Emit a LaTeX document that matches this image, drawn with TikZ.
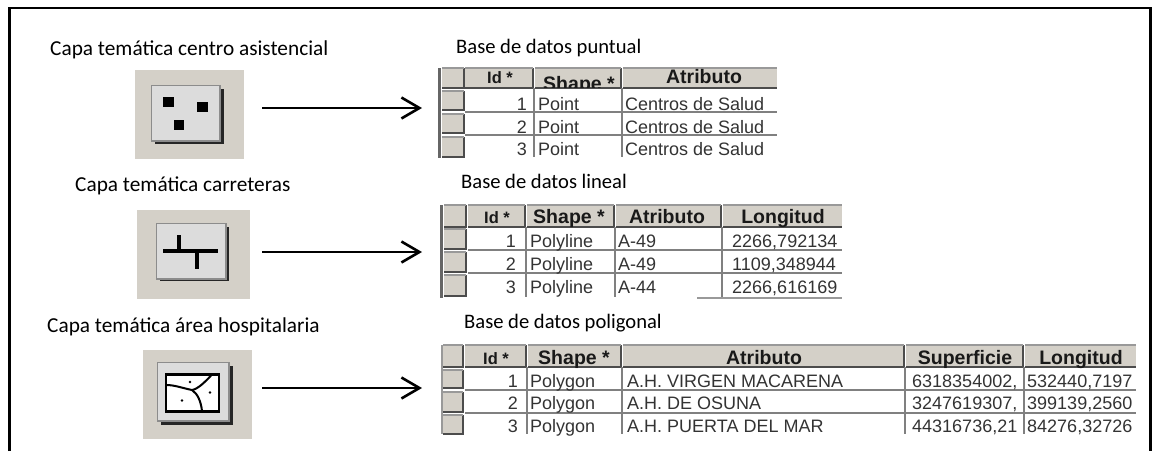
\documentclass[tikz,border=0pt]{standalone}
\usepackage{fontspec}
\setmainfont{Carlito}
\newfontfamily\tabfont{Liberation Sans}
\usetikzlibrary{arrows.meta}
\definecolor{btn}{HTML}{D4D0C8}
\definecolor{stip}{HTML}{DCDCDC}
\tikzset{
  caption/.style={anchor=base west,inner sep=0pt,font=\fontsize{21.3}{24}\selectfont,text=black},
  dbcaption/.style={anchor=base west,inner sep=0pt,font=\fontsize{20.6}{24}\selectfont,text=black},
  frameline/.style={line width=2.6pt,black},
  flow/.style={line width=2.4pt,black,-{Straight Barb[length=18pt,width=21pt,line width=2.6pt]}},
  iconbg/.style={fill=btn,draw=none},
  panel/.style={fill=stip,draw=gray!90,line width=1.4pt},
  shade/.style={fill=black!85,draw=none},
  blk/.style={fill=black,draw=none},
  road/.style={line width=3.8pt,black},
  hdr/.style={anchor=base,inner sep=0pt,font=\tabfont\bfseries\fontsize{19.5}{22}\selectfont,text=black!90},
  hdrid/.style={anchor=base,inner sep=0pt,font=\tabfont\bfseries\fontsize{16.5}{20}\selectfont,text=black!90},
  cell/.style={anchor=base west,inner sep=0pt,font=\tabfont\fontsize{18}{20}\selectfont,text=black!80},
  cellnum/.style={anchor=base east,inner sep=0pt,font=\tabfont\fontsize{18}{20}\selectfont,text=black!80},
  grid/.style={line width=1.4pt,black!50},
  dk/.style={line width=1.8pt,black!70},
  lite/.style={line width=1.2pt,black!40},
}
% header cell: x0, x1, y0, y1
\newcommand{\hcell}[4]{%
  \fill[btn] (#1,#3) rectangle (#2,#4);
  \draw[dk] (#2,#3) -- (#2,#4) -- (#1,#4);
  \draw[lite] (#1,#3) -- (#2,#3);
}
% open-ended header cell: x0, x1, y0, y1
\newcommand{\hopen}[4]{%
  \fill[btn] (#1,#3) rectangle (#2,#4);
  \draw[dk] (#1,#4) -- (#2,#4);
  \draw[lite] (#1,#3) -- (#2,#3);
}
\begin{document}
\begin{tikzpicture}[x=1pt,y=-1pt]
\useasboundingbox (0,0) rectangle (1152,451);
\fill[white] (0,0) rectangle (1152,451);
\draw[frameline] (9.5,451) -- (9.5,8) -- (1150.7,8) -- (1150.7,451);

% captions
\node[caption] (c1) at (50,55) {Capa temática centro asistencial};
\node[caption] (c2) at (75,191) {Capa temática carreteras};
\node[caption] (c3) at (47,332) {Capa temática área hospitalaria};
\node[dbcaption] (d1) at (456,53) {Base de datos puntual};
\node[dbcaption] (d2) at (461,188) {Base de datos lineal};
\node[dbcaption] (d3) at (464,328) {Base de datos poligonal};

% icon 1
\node[iconbg,minimum width=109pt,minimum height=89pt,inner sep=0pt] (i1) at (189.5,114.5) {};
\fill[shade] (155,89) rectangle (223.5,144);
\draw[panel] (151.5,85.5) rectangle (220,141);
\fill[blk] (163,97) rectangle (174,107);
\fill[blk] (197,102) rectangle (208,112);
\fill[blk] (174,120) rectangle (184,130);

% icon 2
\node[iconbg,minimum width=113pt,minimum height=89pt,inner sep=0pt] (i2) at (193.5,254.5) {};
\fill[shade] (160,227) rectangle (229,281);
\draw[panel] (156.5,223.5) rectangle (226,279);
\draw[road] (163,251) -- (218,251);
\draw[road] (179,235) -- (179,251);
\draw[road] (197,251) -- (197,269);

% icon 3
\node[iconbg,minimum width=109pt,minimum height=89pt,inner sep=0pt] (i3) at (197.5,394.5) {};
\fill[shade] (161,366) rectangle (233,425);
\draw[panel] (157.5,362.5) rectangle (229,421);
\draw[line width=2.8pt,black,fill=white] (166,374.5) rectangle (219,411.5);
\draw[line width=2pt,black] (166,385) .. controls (175,385) and (182,388) .. (192,390)
  .. controls (198,389) and (205,382) .. (212,374.5);
\draw[line width=2pt,black] (192,390) .. controls (198,394) and (201,402) .. (202,411);
\fill (190,382) circle (1.4pt) (210,392.5) circle (1.4pt) (182,400.5) circle (1.4pt);

% arrows
\coordinate (t1) at (422,108);
\coordinate (t2) at (422,252);
\coordinate (t3) at (422,388);
\draw[flow] (i1.east |- t1) ++(18,0) coordinate (s1) -- (t1);
\draw[flow] (i2.east |- t2) ++(12,0) coordinate (s2) -- (t2);
\draw[flow] (i3.east |- t3) ++(10,0) coordinate (s3) -- (t3);

% table 1
\draw[line width=3.6pt,black!60] (439.5,68) -- (439.5,158);
\hcell{442}{464}{68}{88}
\hcell{465}{533}{68}{88}
\hcell{535}{621}{68}{88}
\hopen{623}{777}{68}{88}
\node[hdrid] at (500,83) {Id *};
\begin{scope}
\clip (535,68) rectangle (621,87);
\node[hdr] at (579,90) {Shape *};
\end{scope}
\node[hdr] at (704,83) {Atributo};
\foreach \a/\b in {91/110,114/133,137/157}{\hcell{442}{464}{\a}{\b}}
\foreach \x in {534,622}{\draw[grid] (\x,88) -- (\x,157);}
\foreach \y in {112,135}{\draw[grid] (465,\y) -- (777,\y);}
\foreach \y/\n in {110/1,133/2,155/3}{
  \node[cellnum] at (527,\y) {\n};
  \node[cell] at (538,\y) {Point};
  \node[cell] at (625,\y) {Centros de Salud};
}

% table 2
\draw[line width=3.6pt,black!60] (441.5,205) -- (441.5,298);
\hcell{444}{466}{205}{227}
\hcell{468}{525}{205}{227}
\hcell{527}{614}{205}{227}
\hcell{616}{721}{205}{227}
\hopen{723}{842}{205}{227}
\node[hdrid] at (497,223) {Id *};
\node[hdr] at (569,223) {Shape *};
\node[hdr] at (667,223) {Atributo};
\node[hdr] at (783,223) {Longitud};
\foreach \a/\b in {229/249,252/272,275/296}{\hcell{444}{466}{\a}{\b}}
\foreach \x in {526,615,722}{\draw[grid] (\x,227) -- (\x,297);}
\foreach \y in {250,273}{\draw[grid] (468,\y) -- (842,\y);}
\draw[lite] (697,298) -- (842,298);
\foreach \y/\n/\a/\l in {247/1/A-49/2266{,}792134,270/2/A-49/1109{,}348944,293/3/A-44/2266{,}616169}{
  \node[cellnum] at (516,\y) {\n};
  \node[cell] at (530,\y) {Polyline};
  \node[cell] at (618,\y) {\a};
  \node[cell] at (732,\y) {\l};
}

% table 3
\draw[lite] (442,345) -- (442,434);
\hcell{443}{463}{345}{367}
\hcell{465}{526}{345}{367}
\hcell{528}{621}{345}{367}
\hcell{623}{904}{345}{367}
\hcell{906}{1023}{345}{367}
\hopen{1025}{1136}{345}{367}
\node[hdrid] at (496,364) {Id *};
\node[hdr] at (574,364) {Shape *};
\node[hdr] at (764,364) {Atributo};
\node[hdr] at (965,364) {Superficie};
\node[hdr] at (1081,364) {Longitud};
\foreach \a/\b in {370/388,392/412,415/434}{\hcell{443}{463}{\a}{\b}}
\foreach \x in {527,622,905,1024}{\draw[grid] (\x,367) -- (\x,434);}
\foreach \y in {390,413}{\draw[grid] (465,\y) -- (1136,\y);}
\foreach \y/\n/\a/\s/\l in {
  387/1/A.H. VIRGEN MACARENA/6318354002{,}/532440{,}7197,
  409/2/A.H. DE OSUNA/3247619307{,}/399139{,}2560,
  432/3/A.H. PUERTA DEL MAR/44316736{,}21/84276{,}32726}{
  \node[cellnum] at (518,\y) {\n};
  \node[cell] at (530,\y) {Polygon};
  \node[cell] at (627,\y) {\a};
  \node[cell] at (912,\y) {\s};
  \node[cell] at (1027,\y) {\l};
}
\end{tikzpicture}
\end{document}
